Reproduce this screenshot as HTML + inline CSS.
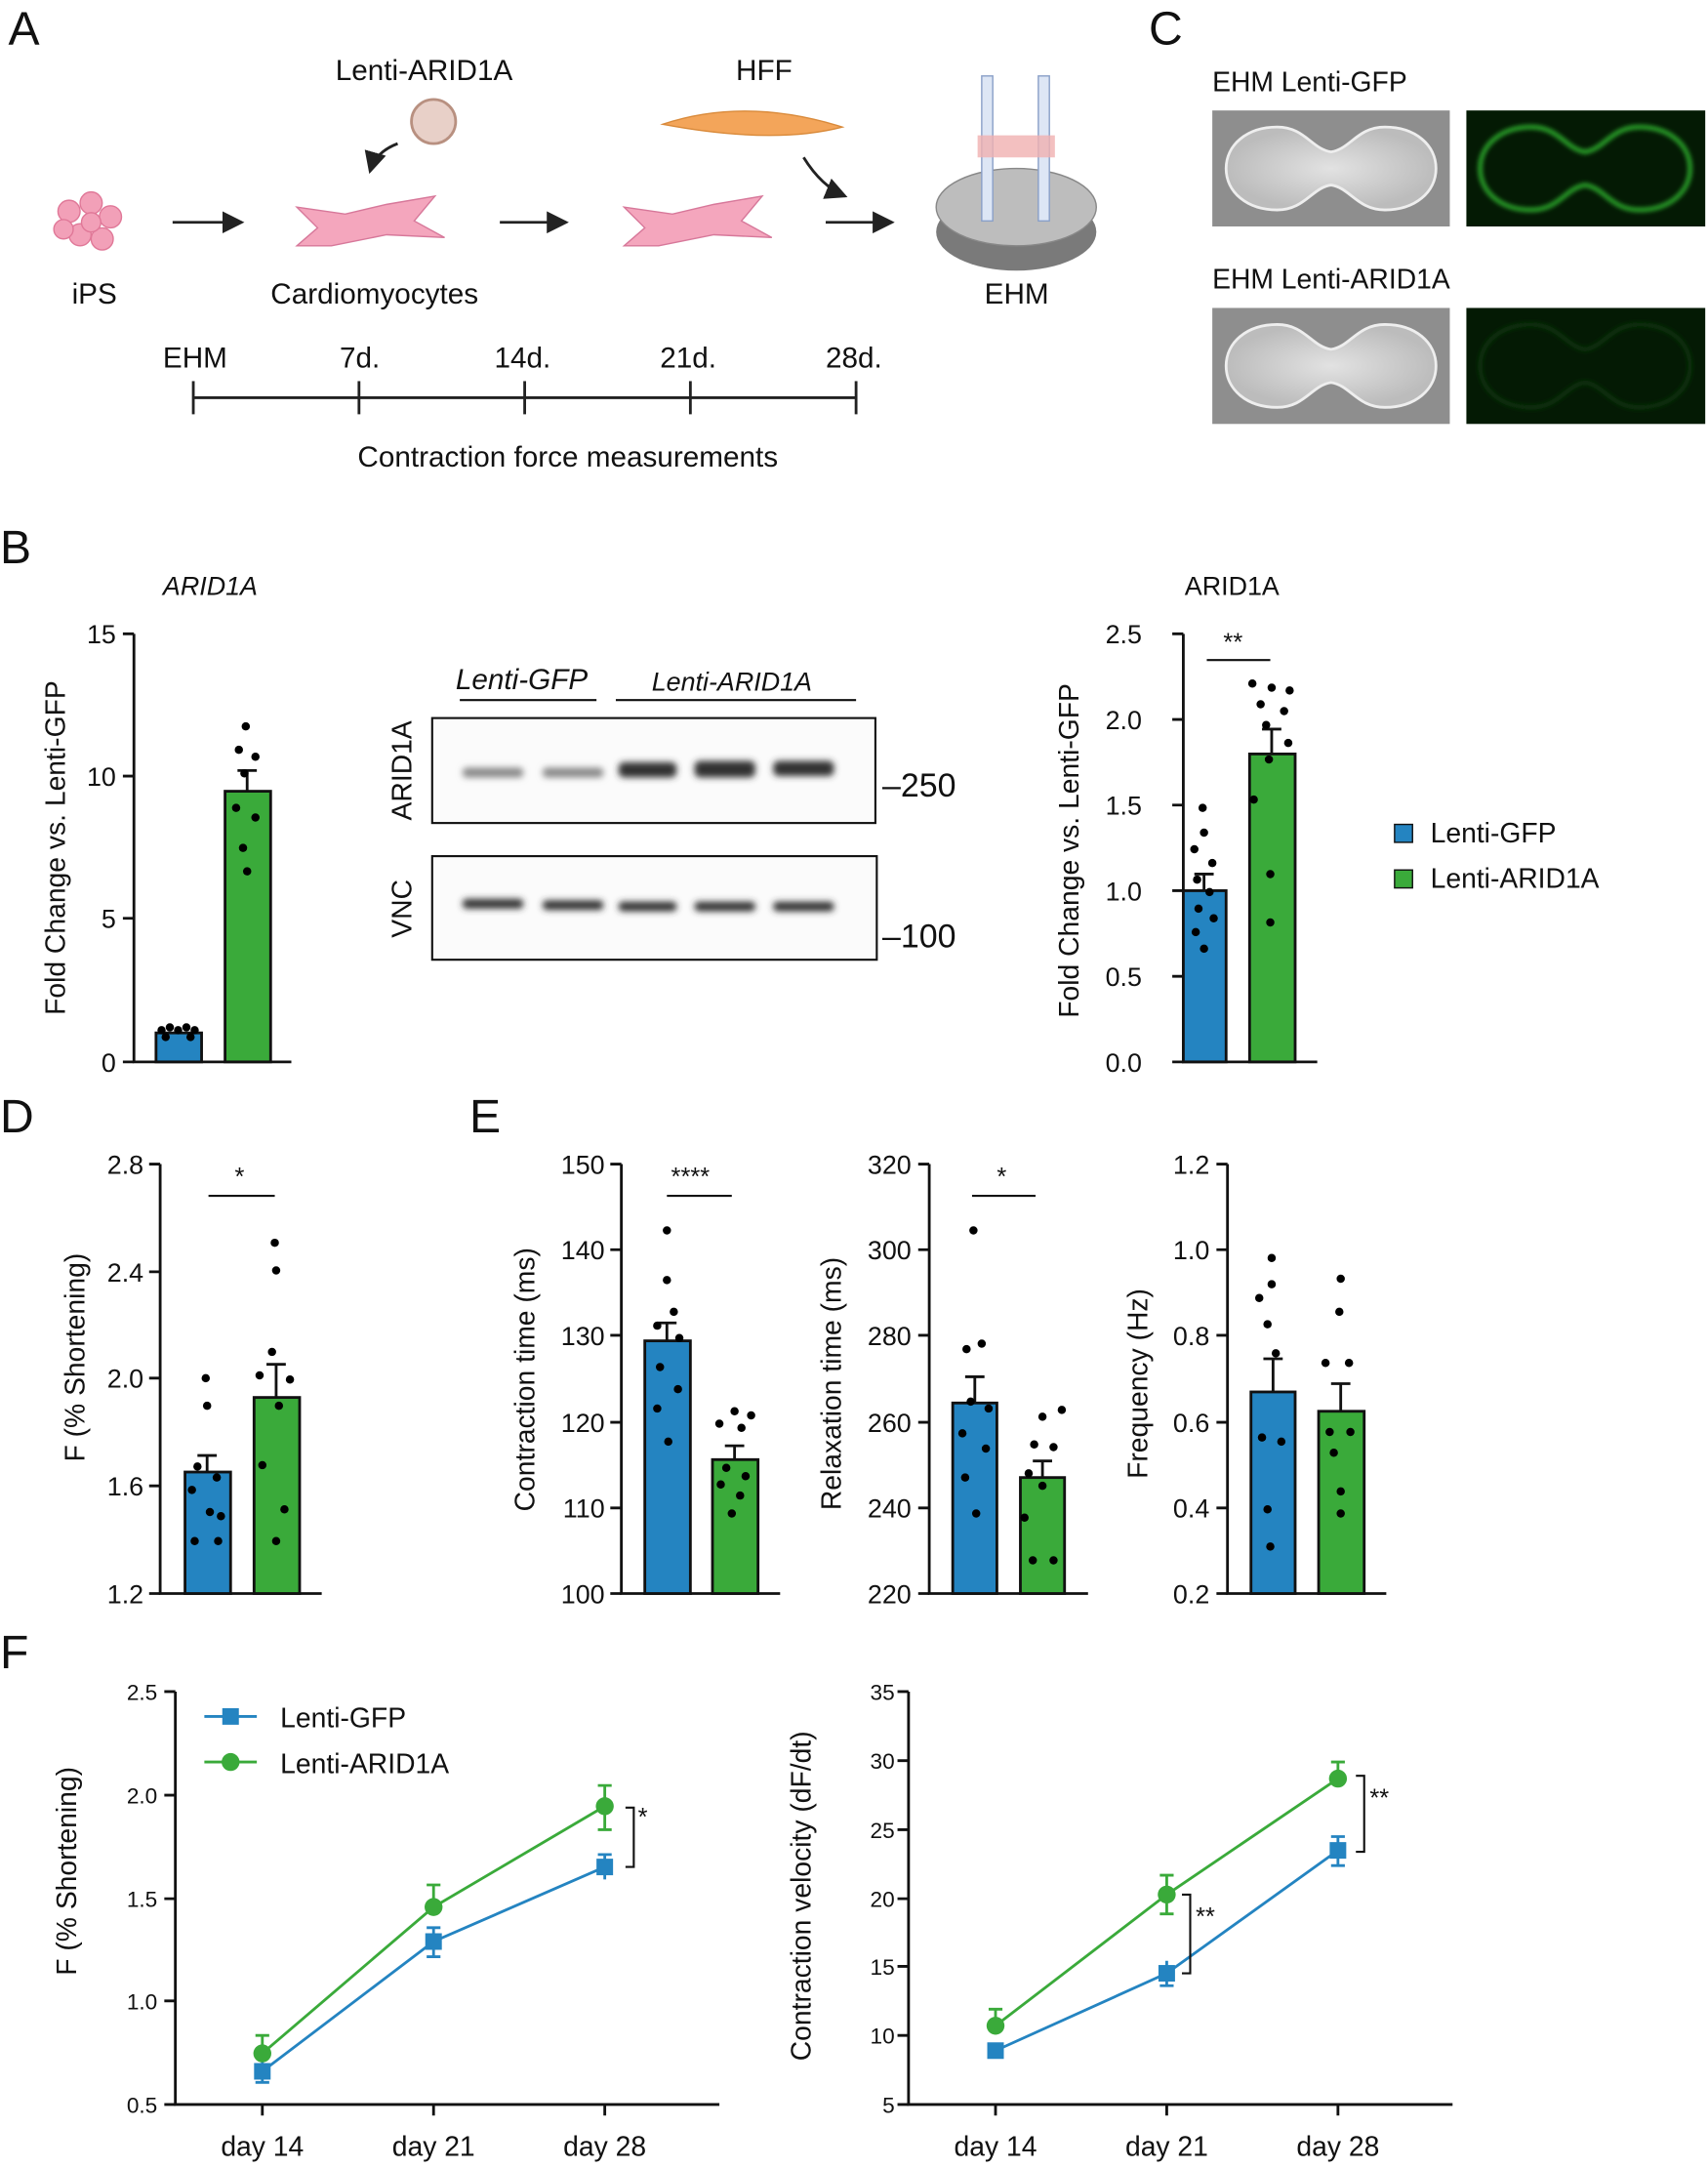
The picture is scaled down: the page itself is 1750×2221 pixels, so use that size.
<!DOCTYPE html>
<html><head><meta charset="utf-8"><style>
html,body{margin:0;padding:0;background:#fff}
svg{display:block}
text{font-family:"Liberation Sans",Arial,sans-serif;fill:#111}
</style></head><body>
<svg width="1750" height="2221" viewBox="0 0 1237 1570" preserveAspectRatio="none" xmlns="http://www.w3.org/2000/svg">
<defs>
<marker id="ar" markerWidth="8" markerHeight="8" refX="7" refY="4" orient="auto"><path d="M0,0 L8,4 L0,8 z" fill="#222"/></marker>
<filter id="bl"><feGaussianBlur stdDeviation="1.6"/></filter>
<filter id="bl2"><feGaussianBlur stdDeviation="2.5"/></filter>
<radialGradient id="gw" cx="50%" cy="50%" r="50%"><stop offset="0" stop-color="#e2e2e2"/><stop offset="1" stop-color="#bcbcbc"/></radialGradient>
</defs>
<g font-size="34"><text x="6" y="32">A</text><text x="832" y="32">C</text><text x="0" y="408">B</text><text x="0" y="820">D</text><text x="340" y="820">E</text><text x="0" y="1208">F</text></g>

<!-- Panel A -->
<g font-size="21">
<text x="243" y="58">Lenti-ARID1A</text><text x="533" y="58">HFF</text>
<text x="52" y="220">iPS</text><text x="196" y="220">Cardiomyocytes</text><text x="713" y="220">EHM</text>
<text x="118" y="266">EHM</text><text x="246" y="266">7d.</text><text x="358" y="266">14d.</text><text x="478" y="266">21d.</text><text x="598" y="266">28d.</text>
<text x="259" y="338">Contraction force measurements</text>
</g>
<g fill="#f2a0b8" stroke="#e07898" stroke-width="1">
<circle cx="50" cy="153" r="8"/><circle cx="66" cy="147" r="8"/><circle cx="80" cy="157" r="8"/><circle cx="58" cy="170" r="8"/><circle cx="74" cy="173" r="8"/><circle cx="46" cy="166" r="7"/><circle cx="66" cy="161" r="7"/>
</g>
<line x1="125" y1="161" x2="175" y2="161" stroke="#222" stroke-width="2" marker-end="url(#ar)"/>
<line x1="362" y1="161" x2="410" y2="161" stroke="#222" stroke-width="2" marker-end="url(#ar)"/>
<line x1="598" y1="161" x2="646" y2="161" stroke="#222" stroke-width="2" marker-end="url(#ar)"/>
<path d="M215,150 L250,155 L280,148 L315,142 L300,160 L322,172 L280,170 L240,178 L215,178 L230,165 Z" fill="#f4a6bd" stroke="#d7789a"/>
<path d="M452,150 L487,155 L517,148 L552,142 L537,160 L559,172 L517,170 L477,178 L452,178 L467,165 Z" fill="#f4a6bd" stroke="#d7789a"/>
<circle cx="314" cy="88" r="16" fill="#e8d0c8" stroke="#b89080" stroke-width="2"/>
<path d="M288,104 Q272,110 268,124" fill="none" stroke="#222" stroke-width="2" marker-end="url(#ar)"/>
<path d="M480,90 Q540,70 610,92 Q560,105 480,90 Z" fill="#f3a55a" stroke="#d98a3a"/>
<path d="M582,114 Q595,135 612,142" fill="none" stroke="#222" stroke-width="2" marker-end="url(#ar)"/>
<ellipse cx="736" cy="168" rx="58" ry="28" fill="#7a7a7a"/>
<ellipse cx="736" cy="150" rx="58" ry="28" fill="#bdbdbd" stroke="#888"/>
<rect x="711" y="55" width="8" height="105" fill="#dde6f5" stroke="#8aa0c8"/><rect x="752" y="55" width="8" height="105" fill="#dde6f5" stroke="#8aa0c8"/>
<rect x="708" y="98" width="56" height="16" fill="#f0b0b0" opacity=".8"/>
<line x1="140" y1="288" x2="620" y2="288" stroke="#222" stroke-width="2"/>
<g stroke="#222" stroke-width="2"><line x1="140" y1="276" x2="140" y2="300"/><line x1="260" y1="276" x2="260" y2="300"/><line x1="380" y1="276" x2="380" y2="300"/><line x1="500" y1="276" x2="500" y2="300"/><line x1="620" y1="276" x2="620" y2="300"/></g>

<!-- Panel C -->
<g font-size="20"><text x="878" y="66">EHM Lenti-GFP</text><text x="878" y="209">EHM Lenti-ARID1A</text></g>
<rect x="878" y="80" width="172" height="84" fill="#8e8e8e"/>
<path d="M925,92 C945,92 950,108 964,110 C978,108 983,92 1003,92 C1025,92 1040,105 1040,122 C1040,139 1025,152 1003,152 C983,152 978,136 964,134 C950,136 945,152 925,152 C903,152 888,139 888,122 C888,105 903,92 925,92 Z" fill="url(#gw)" stroke="#eee" stroke-width="2"/>
<rect x="1062" y="80" width="173" height="84" fill="#041a04"/>
<path d="M1109,92 C1129,92 1134,108 1148,110 C1162,108 1167,92 1187,92 C1209,92 1224,105 1224,122 C1224,139 1209,152 1187,152 C1167,152 1162,136 1148,134 C1134,136 1129,152 1109,152 C1087,152 1072,139 1072,122 C1072,105 1087,92 1109,92 Z" fill="none" stroke="#2fb02f" stroke-width="3" filter="url(#bl)"/>
<rect x="878" y="223" width="172" height="84" fill="#8e8e8e"/>
<path d="M925,235 C945,235 950,251 964,253 C978,251 983,235 1003,235 C1025,235 1040,248 1040,265 C1040,282 1025,295 1003,295 C983,295 978,279 964,277 C950,279 945,295 925,295 C903,295 888,282 888,265 C888,248 903,235 925,235 Z" fill="url(#gw)" stroke="#eee" stroke-width="2"/>
<rect x="1062" y="223" width="173" height="84" fill="#041a04"/>
<path d="M1109,235 C1129,235 1134,251 1148,253 C1162,251 1167,235 1187,235 C1209,235 1224,248 1224,265 C1224,282 1209,295 1187,295 C1167,295 1162,279 1148,277 C1134,279 1129,295 1109,295 C1087,295 1072,282 1072,265 C1072,248 1087,235 1109,235 Z" fill="none" stroke="#0e360e" stroke-width="3" filter="url(#bl)"/>

<!-- B left -->
<text x="118" y="431" font-size="19" font-style="italic">ARID1A</text>
<g stroke="#111" stroke-width="2" fill="none"><path d="M97,459 V769 H211"/><path d="M89,459 H97 M89,562 H97 M89,665 H97 M89,769 H97"/></g>
<g font-size="19" text-anchor="end"><text x="84" y="466">15</text><text x="84" y="569">10</text><text x="84" y="672">5</text><text x="84" y="776">0</text></g>
<text transform="translate(47,614) rotate(-90)" font-size="20" text-anchor="middle">Fold Change vs. Lenti-GFP</text>
<rect x="113" y="748" width="33" height="21" fill="#2484c1" stroke="#111" stroke-width="2"/>
<rect x="163" y="573" width="33" height="196" fill="#3aaa3a" stroke="#111" stroke-width="2"/>
<path d="M179,573 V558 M172,558 H186" stroke="#111" stroke-width="2"/>
<g fill="#000"><circle cx="117" cy="746" r="3"/><circle cx="123" cy="744" r="3"/><circle cx="129" cy="746" r="3"/><circle cx="135" cy="744" r="3"/><circle cx="141" cy="746" r="3"/><circle cx="120" cy="751" r="3"/><circle cx="138" cy="751" r="3"/>
<circle cx="178" cy="526" r="3"/><circle cx="173" cy="543" r="3"/><circle cx="185" cy="548" r="3"/><circle cx="177" cy="560" r="3"/><circle cx="171" cy="585" r="3"/><circle cx="185" cy="592" r="3"/><circle cx="176" cy="614" r="3"/><circle cx="179" cy="631" r="3"/></g>

<!-- Western blot -->
<g font-size="21" font-style="italic"><text x="330" y="499">Lenti-GFP</text><text x="472" y="500" font-size="19">Lenti-ARID1A</text></g>
<line x1="333" y1="507" x2="432" y2="507" stroke="#111" stroke-width="1.5"/><line x1="446" y1="507" x2="620" y2="507" stroke="#111" stroke-width="1.5"/>
<rect x="313" y="520" width="321" height="76" fill="#fbfbfb" stroke="#111" stroke-width="1.5"/>
<rect x="313" y="620" width="322" height="75" fill="#fbfbfb" stroke="#111" stroke-width="1.5"/>
<g filter="url(#bl2)">
<g fill="#888"><rect x="335" y="556" width="44" height="7" rx="3"/><rect x="393" y="556" width="44" height="7" rx="3"/></g>
<g fill="#333"><rect x="448" y="552" width="42" height="11" rx="4"/><rect x="503" y="551" width="44" height="12" rx="4"/><rect x="560" y="551" width="44" height="11" rx="4"/>
<rect x="335" y="651" width="44" height="7" rx="3"/><rect x="393" y="652" width="44" height="7" rx="3"/><rect x="448" y="653" width="42" height="7" rx="3"/><rect x="503" y="653" width="44" height="7" rx="3"/><rect x="560" y="653" width="44" height="7" rx="3"/></g>
</g>
<text transform="translate(298,558) rotate(-90)" font-size="20" text-anchor="middle">ARID1A</text>
<text transform="translate(298,658) rotate(-90)" font-size="20" text-anchor="middle">VNC</text>
<text x="639" y="577" font-size="24">–250</text><text x="639" y="686" font-size="24">–100</text>

<!-- B right -->
<text x="858" y="431" font-size="19">ARID1A</text>
<g stroke="#111" stroke-width="2" fill="none"><path d="M857,459 V769 H954"/><path d="M849,459 H857 M849,521 H857 M849,583 H857 M849,645 H857 M849,707 H857 M849,769 H857"/></g>
<g font-size="19" text-anchor="end"><text x="827" y="466">2.5</text><text x="827" y="528">2.0</text><text x="827" y="590">1.5</text><text x="827" y="652">1.0</text><text x="827" y="714">0.5</text><text x="827" y="776">0.0</text></g>
<text transform="translate(781,616) rotate(-90)" font-size="20" text-anchor="middle">Fold Change vs. Lenti-GFP</text>
<rect x="857" y="645" width="31" height="124" fill="#2484c1" stroke="#111" stroke-width="2"/>
<rect x="905" y="546" width="33" height="223" fill="#3aaa3a" stroke="#111" stroke-width="2"/>
<path d="M872,645 V633 M865,633 H879 M921,546 V528 M914,528 H928" stroke="#111" stroke-width="2"/>
<line x1="874" y1="478" x2="920" y2="478" stroke="#111" stroke-width="1.5"/><text x="886" y="471" font-size="18">**</text>
<g fill="#000"><circle cx="871" cy="585" r="3"/><circle cx="872" cy="603" r="3"/><circle cx="865" cy="615" r="3"/><circle cx="878" cy="625" r="3"/><circle cx="867" cy="637" r="3"/><circle cx="876" cy="646" r="3"/><circle cx="868" cy="658" r="3"/><circle cx="879" cy="665" r="3"/><circle cx="866" cy="675" r="3"/><circle cx="872" cy="687" r="3"/>
<circle cx="907" cy="495" r="3"/><circle cx="921" cy="498" r="3"/><circle cx="934" cy="500" r="3"/><circle cx="913" cy="510" r="3"/><circle cx="930" cy="515" r="3"/><circle cx="917" cy="525" r="3"/><circle cx="933" cy="538" r="3"/><circle cx="919" cy="550" r="3"/><circle cx="908" cy="579" r="3"/><circle cx="920" cy="633" r="3"/><circle cx="920" cy="668" r="3"/></g>
<rect x="1010" y="597" width="13" height="13" fill="#2484c1" stroke="#111"/><rect x="1010" y="630" width="13" height="13" fill="#3aaa3a" stroke="#111"/>
<g font-size="20"><text x="1036" y="610">Lenti-GFP</text><text x="1036" y="643">Lenti-ARID1A</text></g>

<!-- D -->
<g stroke="#111" stroke-width="2" fill="none"><path d="M116,843 V1154 H233"/><path d="M108,843 H116 M108,921 H116 M108,998 H116 M108,1076 H116 M108,1154 H116"/></g>
<g font-size="19" text-anchor="end"><text x="104" y="850">2.8</text><text x="104" y="928">2.4</text><text x="104" y="1005">2.0</text><text x="104" y="1083">1.6</text><text x="104" y="1161">1.2</text></g>
<text transform="translate(61,983) rotate(-90)" font-size="20" text-anchor="middle">F (% Shortening)</text>
<rect x="134" y="1066" width="33" height="88" fill="#2484c1" stroke="#111" stroke-width="2"/>
<rect x="184" y="1012" width="33" height="142" fill="#3aaa3a" stroke="#111" stroke-width="2"/>
<path d="M150,1066 V1054 M143,1054 H157 M200,1012 V988 M193,988 H207" stroke="#111" stroke-width="2"/>
<line x1="151" y1="866" x2="199" y2="866" stroke="#111" stroke-width="1.5"/><text x="170" y="858" font-size="18">*</text>
<g fill="#000"><circle cx="149" cy="998" r="3"/><circle cx="150" cy="1018" r="3"/><circle cx="143" cy="1062" r="3"/><circle cx="157" cy="1070" r="3"/><circle cx="139" cy="1079" r="3"/><circle cx="152" cy="1095" r="3"/><circle cx="160" cy="1098" r="3"/><circle cx="141" cy="1116" r="3"/><circle cx="158" cy="1116" r="3"/>
<circle cx="199" cy="900" r="3"/><circle cx="200" cy="920" r="3"/><circle cx="197" cy="979" r="3"/><circle cx="188" cy="996" r="3"/><circle cx="210" cy="999" r="3"/><circle cx="202" cy="1018" r="3"/><circle cx="190" cy="1061" r="3"/><circle cx="206" cy="1093" r="3"/><circle cx="200" cy="1116" r="3"/></g>

<!-- E1 -->
<g stroke="#111" stroke-width="2" fill="none"><path d="M450,843 V1154 H565"/><path d="M442,843 H450 M442,905 H450 M442,967 H450 M442,1030 H450 M442,1092 H450 M442,1154 H450"/></g>
<g font-size="19" text-anchor="end"><text x="438" y="850">150</text><text x="438" y="912">140</text><text x="438" y="974">130</text><text x="438" y="1037">120</text><text x="438" y="1099">110</text><text x="438" y="1161">100</text></g>
<text transform="translate(387,999) rotate(-90)" font-size="20" text-anchor="middle">Contraction time (ms)</text>
<rect x="467" y="971" width="33" height="183" fill="#2484c1" stroke="#111" stroke-width="2"/>
<rect x="516" y="1057" width="33" height="97" fill="#3aaa3a" stroke="#111" stroke-width="2"/>
<path d="M483,971 V958 M476,958 H490 M532,1057 V1047 M525,1047 H539" stroke="#111" stroke-width="2"/>
<line x1="483" y1="866" x2="530" y2="866" stroke="#111" stroke-width="1.5"/><text x="486" y="858" font-size="18">****</text>
<g fill="#000"><circle cx="483" cy="891" r="3"/><circle cx="483" cy="927" r="3"/><circle cx="488" cy="950" r="3"/><circle cx="476" cy="960" r="3"/><circle cx="492" cy="969" r="3"/><circle cx="478" cy="990" r="3"/><circle cx="491" cy="1006" r="3"/><circle cx="476" cy="1020" r="3"/><circle cx="484" cy="1044" r="3"/>
<circle cx="532" cy="1022" r="3"/><circle cx="544" cy="1025" r="3"/><circle cx="521" cy="1031" r="3"/><circle cx="537" cy="1034" r="3"/><circle cx="526" cy="1063" r="3"/><circle cx="540" cy="1069" r="3"/><circle cx="522" cy="1075" r="3"/><circle cx="536" cy="1083" r="3"/><circle cx="530" cy="1096" r="3"/></g>

<!-- E2 -->
<g stroke="#111" stroke-width="2" fill="none"><path d="M673,843 V1154 H788"/><path d="M665,843 H673 M665,905 H673 M665,967 H673 M665,1030 H673 M665,1092 H673 M665,1154 H673"/></g>
<g font-size="19" text-anchor="end"><text x="660" y="850">320</text><text x="660" y="912">300</text><text x="660" y="974">280</text><text x="660" y="1037">260</text><text x="660" y="1099">240</text><text x="660" y="1161">220</text></g>
<text transform="translate(609,1002) rotate(-90)" font-size="20" text-anchor="middle">Relaxation time (ms)</text>
<rect x="690" y="1016" width="32" height="138" fill="#2484c1" stroke="#111" stroke-width="2"/>
<rect x="739" y="1070" width="32" height="84" fill="#3aaa3a" stroke="#111" stroke-width="2"/>
<path d="M706,1016 V997 M699,997 H713 M755,1070 V1058 M748,1058 H762" stroke="#111" stroke-width="2"/>
<line x1="704" y1="866" x2="750" y2="866" stroke="#111" stroke-width="1.5"/><text x="722" y="858" font-size="18">*</text>
<g fill="#000"><circle cx="705" cy="891" r="3"/><circle cx="711" cy="973" r="3"/><circle cx="700" cy="977" r="3"/><circle cx="703" cy="1015" r="3"/><circle cx="716" cy="1020" r="3"/><circle cx="697" cy="1038" r="3"/><circle cx="714" cy="1049" r="3"/><circle cx="699" cy="1070" r="3"/><circle cx="707" cy="1096" r="3"/>
<circle cx="769" cy="1021" r="3"/><circle cx="755" cy="1026" r="3"/><circle cx="749" cy="1046" r="3"/><circle cx="763" cy="1048" r="3"/><circle cx="745" cy="1067" r="3"/><circle cx="755" cy="1076" r="3"/><circle cx="742" cy="1099" r="3"/><circle cx="748" cy="1130" r="3"/><circle cx="763" cy="1130" r="3"/></g>

<!-- E3 -->
<g stroke="#111" stroke-width="2" fill="none"><path d="M889,843 V1154 H1004"/><path d="M881,843 H889 M881,905 H889 M881,967 H889 M881,1030 H889 M881,1092 H889 M881,1154 H889"/></g>
<g font-size="19" text-anchor="end"><text x="876" y="850">1.2</text><text x="876" y="912">1.0</text><text x="876" y="974">0.8</text><text x="876" y="1037">0.6</text><text x="876" y="1099">0.4</text><text x="876" y="1161">0.2</text></g>
<text transform="translate(831,1002) rotate(-90)" font-size="20" text-anchor="middle">Frequency (Hz)</text>
<rect x="906" y="1008" width="32" height="146" fill="#2484c1" stroke="#111" stroke-width="2"/>
<rect x="955" y="1022" width="33" height="132" fill="#3aaa3a" stroke="#111" stroke-width="2"/>
<path d="M922,1008 V984 M915,984 H929 M971,1022 V1002 M964,1002 H978" stroke="#111" stroke-width="2"/>
<g fill="#000"><circle cx="921" cy="911" r="3"/><circle cx="921" cy="930" r="3"/><circle cx="912" cy="940" r="3"/><circle cx="918" cy="959" r="3"/><circle cx="924" cy="980" r="3"/><circle cx="914" cy="1041" r="3"/><circle cx="928" cy="1044" r="3"/><circle cx="918" cy="1093" r="3"/><circle cx="920" cy="1120" r="3"/>
<circle cx="971" cy="926" r="3"/><circle cx="970" cy="950" r="3"/><circle cx="960" cy="987" r="3"/><circle cx="977" cy="987" r="3"/><circle cx="963" cy="1037" r="3"/><circle cx="978" cy="1037" r="3"/><circle cx="966" cy="1052" r="3"/><circle cx="971" cy="1080" r="3"/><circle cx="971" cy="1096" r="3"/></g>

<!-- F left -->
<g stroke="#111" stroke-width="2" fill="none"><path d="M127,1225 V1524 H521"/><path d="M119,1225 H127 M119,1300 H127 M119,1375 H127 M119,1449 H127 M119,1524 H127 M190,1524 V1532 M314,1524 V1532 M438,1524 V1532"/></g>
<g font-size="16" text-anchor="end" fill="#333"><text x="114" y="1231">2.5</text><text x="114" y="1306">2.0</text><text x="114" y="1381">1.5</text><text x="114" y="1455">1.0</text><text x="114" y="1530">0.5</text></g>
<g font-size="20" text-anchor="middle"><text x="190" y="1561">day 14</text><text x="314" y="1561">day 21</text><text x="438" y="1561">day 28</text></g>
<text transform="translate(55,1355) rotate(-90)" font-size="20" text-anchor="middle">F (% Shortening)</text>
<polyline points="190,1500 314,1406 438,1352" fill="none" stroke="#2484c1" stroke-width="2"/>
<polyline points="190,1487 314,1381 438,1308" fill="none" stroke="#3aaa3a" stroke-width="2"/>
<g stroke="#2484c1" stroke-width="2"><path d="M190,1492 V1508 M185,1508 H195 M314,1396 V1417 M309,1417 H319 M309,1396 H319 M438,1343 V1361 M433,1343 H443"/></g>
<g stroke="#3aaa3a" stroke-width="2"><path d="M190,1474 V1487 M185,1474 H195 M314,1365 V1381 M309,1365 H319 M438,1293 V1325 M433,1293 H443 M433,1325 H443"/></g>
<g fill="#2484c1"><rect x="184" y="1494" width="12" height="12"/><rect x="308" y="1400" width="12" height="12"/><rect x="432" y="1346" width="12" height="12"/></g>
<g fill="#3aaa3a"><circle cx="190" cy="1487" r="6.5"/><circle cx="314" cy="1381" r="6.5"/><circle cx="438" cy="1308" r="6.5"/></g>
<path d="M453,1309 H459 V1352 H453" fill="none" stroke="#111" stroke-width="1.5"/><text x="462" y="1322" font-size="18">*</text>
<line x1="148" y1="1243" x2="186" y2="1243" stroke="#2484c1" stroke-width="2"/><rect x="161" y="1237" width="12" height="12" fill="#2484c1"/>
<line x1="148" y1="1276" x2="186" y2="1276" stroke="#3aaa3a" stroke-width="2"/><circle cx="167" cy="1276" r="6.5" fill="#3aaa3a"/>
<g font-size="20"><text x="203" y="1251">Lenti-GFP</text><text x="203" y="1284">Lenti-ARID1A</text></g>

<!-- F right -->
<g stroke="#111" stroke-width="2" fill="none"><path d="M658,1225 V1524 H1052"/><path d="M650,1225 H658 M650,1275 H658 M650,1325 H658 M650,1375 H658 M650,1424 H658 M650,1474 H658 M650,1524 H658 M721,1524 V1532 M845,1524 V1532 M969,1524 V1532"/></g>
<g font-size="16" text-anchor="end" fill="#333"><text x="648" y="1231">35</text><text x="648" y="1281">30</text><text x="648" y="1331">25</text><text x="648" y="1381">20</text><text x="648" y="1430">15</text><text x="648" y="1480">10</text><text x="648" y="1530">5</text></g>
<g font-size="20" text-anchor="middle"><text x="721" y="1561">day 14</text><text x="845" y="1561">day 21</text><text x="969" y="1561">day 28</text></g>
<text transform="translate(587,1373) rotate(-90)" font-size="20" text-anchor="middle">Contraction velocity (dF/dt)</text>
<polyline points="721,1485 845,1429 969,1340" fill="none" stroke="#2484c1" stroke-width="2"/>
<polyline points="721,1467 845,1372 969,1288" fill="none" stroke="#3aaa3a" stroke-width="2"/>
<g stroke="#2484c1" stroke-width="2"><path d="M845,1420 V1438 M840,1438 H850 M969,1330 V1351 M964,1351 H974 M964,1330 H974"/></g>
<g stroke="#3aaa3a" stroke-width="2"><path d="M721,1455 V1467 M716,1455 H726 M845,1358 V1386 M840,1358 H850 M840,1386 H850 M969,1276 V1288 M964,1276 H974"/></g>
<g fill="#2484c1"><rect x="715" y="1479" width="12" height="12"/><rect x="839" y="1423" width="12" height="12"/><rect x="963" y="1334" width="12" height="12"/></g>
<g fill="#3aaa3a"><circle cx="721" cy="1467" r="6.5"/><circle cx="845" cy="1372" r="6.5"/><circle cx="969" cy="1288" r="6.5"/></g>
<path d="M856,1372 H862 V1429 H856" fill="none" stroke="#111" stroke-width="1.5"/><text x="866" y="1394" font-size="18">**</text>
<path d="M982,1286 H988 V1341 H982" fill="none" stroke="#111" stroke-width="1.5"/><text x="992" y="1308" font-size="18">**</text>
</svg>
</body></html>
